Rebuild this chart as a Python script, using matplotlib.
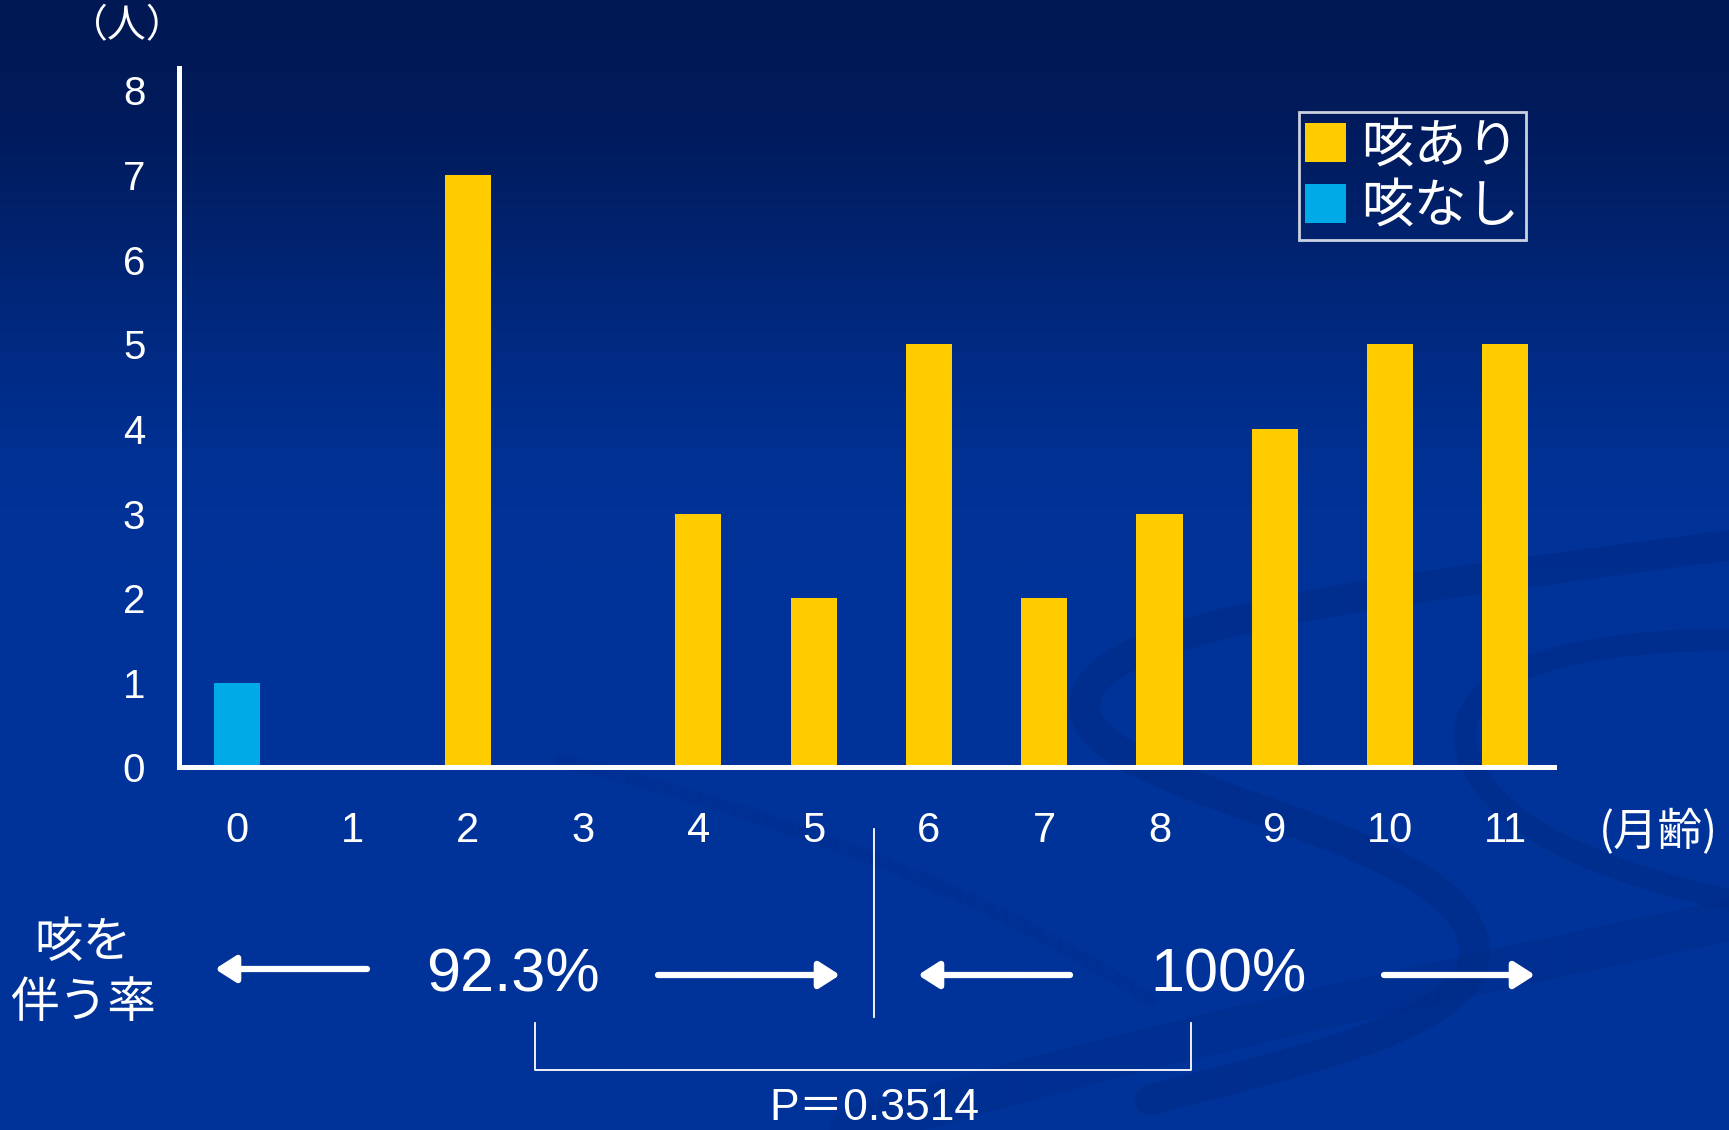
import numpy as np
import matplotlib
matplotlib.use("Agg")
import matplotlib.pyplot as plt
from matplotlib.path import Path
from matplotlib.patches import PathPatch

plt.rcParams['font.family'] = ['Liberation Sans', 'Noto Sans CJK JP', 'DejaVu Sans']

# ---- data ----
months = [0, 1, 2, 3, 4, 5, 6, 7, 8, 9, 10, 11]
month_labels = ['0', '1', '2', '3', '4', '5', '6', '7', '8', '9', '10', '11']
cough_yes = [0, 0, 7, 0, 3, 2, 5, 2, 3, 4, 5, 5]
cough_no = [1, 0, 0, 0, 0, 0, 0, 0, 0, 0, 0, 0]
series_names = ['咳あり', '咳なし']
y_ticks = [0, 1, 2, 3, 4, 5, 6, 7, 8]
rate_early = '92.3%'
rate_late = '100%'
p_text = 'P＝0.3514'

YELLOW = '#FFCC00'
CYAN = '#00AAE6'
W, H = 1729, 1130

fig = plt.figure(figsize=(W / 100, H / 100), dpi=100)

# ---- background gradient ----
bg = fig.add_axes([0, 0, 1, 1], zorder=0)
ys = np.linspace(0, 1, H)
t = np.clip(ys / 0.5, 0, 1)
t = t * t * (3 - 2 * t)
top = np.array([0, 24, 84]) / 255
bot = np.array([0, 51, 153]) / 255
grad = top[None, :] * (1 - t[:, None]) + bot[None, :] * t[:, None]
img = np.repeat(grad[:, None, :], 4, axis=1)
bg.imshow(img, extent=[0, W, H, 0], aspect='auto', interpolation='bilinear')
bg.set_xlim(0, W)
bg.set_ylim(H, 0)
bg.axis('off')

def curve(pts, lw, color, alpha):
    codes = [Path.MOVETO] + [Path.CURVE4] * (len(pts) - 1)
    bg.add_patch(PathPatch(Path(pts, codes), fill=False, lw=lw, color=color,
                           alpha=alpha, capstyle='round'))

dark = '#002a85'
curve([(1730, 545), (1400, 590), (1100, 620), (1085, 700),
       (1070, 790), (1420, 820), (1470, 930),
       (1510, 1020), (1300, 1060), (1150, 1100)], 22, dark, 0.55)
curve([(1729, 640), (1550, 640), (1440, 680), (1470, 760),
       (1500, 840), (1640, 880), (1729, 900)], 16, dark, 0.45)
curve([(850, 1130), (1150, 1040), (1450, 980), (1729, 920)], 30, dark, 0.35)
curve([(560, 760), (800, 820), (1000, 900), (1150, 1000)], 10, dark, 0.25)

# ---- main axes ----
ax = fig.add_axes([0.1033, 0.3208, 0.7954, 0.6187], zorder=1)
ax.patch.set_alpha(0)
ax.bar(months, cough_yes, width=0.4, color=YELLOW, label=series_names[0], zorder=2)
ax.bar(months, cough_no, width=0.4, color=CYAN, label=series_names[1], zorder=2)
ax.set_xlim(-0.507, 11.42)
ax.set_ylim(0, 8.26)
ax.set_yticks(y_ticks)
ax.set_yticklabels([str(v) for v in y_ticks])
ax.set_xticks(months)
ax.set_xticklabels(month_labels)
ax.tick_params(axis='y', length=0, pad=24, labelsize=29, labelcolor='white')
ax.tick_params(axis='x', length=0, pad=31, labelsize=30, labelcolor='white')
for s in ['top', 'right']:
    ax.spines[s].set_visible(False)
for s in ['left', 'bottom']:
    ax.spines[s].set_color('white')
    ax.spines[s].set_linewidth(3.6)
    ax.spines[s].set_zorder(3)

leg = ax.legend(loc='upper right', bbox_to_anchor=(1526 / W, 1 - 112 / H),
                bbox_transform=fig.transFigure, borderaxespad=0,
                prop={'family': ['Noto Sans CJK JP'], 'size': 38},
                handlelength=0.76, handleheight=0.76, handletextpad=0.3,
                labelspacing=0.1, borderpad=0.12, fancybox=False,
                frameon=True)
leg.get_frame().set_edgecolor('white')
leg.get_frame().set_facecolor('none')
leg.get_frame().set_linewidth(2)
for txt in leg.get_texts():
    txt.set_color('white')

# ---- overlay annotations (pixel coordinates) ----
ov = fig.add_axes([0, 0, 1, 1], zorder=2)
ov.patch.set_alpha(0)
ov.set_xlim(0, W)
ov.set_ylim(H, 0)
ov.axis('off')

cjk = ['Noto Sans CJK JP', 'DejaVu Sans']
ov.text(127, 26, '（人）', color='white', fontsize=28, ha='center', va='center', family=cjk)
ov.text(1718, 832, '(月齢)', color='white', fontsize=32, ha='right', va='center', family=cjk)
ov.text(83, 943, '咳を', color='white', fontsize=35, ha='center', va='center', family=cjk)
ov.text(83, 1003, '伴う率', color='white', fontsize=35, ha='center', va='center', family=cjk)

ov.text(513, 976, rate_early, color='white', fontsize=44, ha='center', va='center')
ov.text(1229, 976, rate_late, color='white', fontsize=44, ha='center', va='center')

def arrow(x0, x1, y):
    ov.annotate('', xy=(x1, y), xytext=(x0, y),
                arrowprops=dict(arrowstyle='-|>,head_length=0.5,head_width=0.32',
                                lw=4.5, color='white', mutation_scale=25,
                                shrinkA=0, shrinkB=0))

arrow(367, 215, 969)
arrow(658, 840, 975)
arrow(1070, 918, 975)
arrow(1384, 1535, 975)

ov.plot([874, 874], [829, 1017], color='white', lw=1.3)
ov.plot([535, 535, 1191, 1191], [1023, 1070, 1070, 1023], color='white', lw=1.3)
ov.text(874, 1108, p_text, color='white', fontsize=32, ha='center', va='center',
        family=['Liberation Sans', 'Noto Sans CJK JP'])

fig.savefig('out.png', dpi=100)
